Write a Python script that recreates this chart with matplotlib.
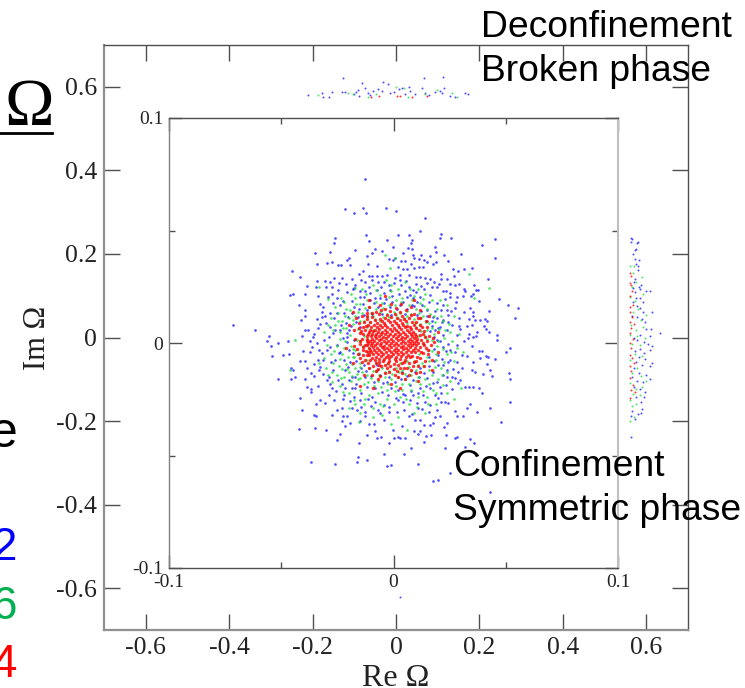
import numpy as np
import matplotlib
matplotlib.use('Agg')
import matplotlib.pyplot as plt

# all scatter values are read off the picture, in units of 1/1000
# inset, blue (largest volume)
blue_inset = [
    (-12.6,72.7),(-21.7,59.6),(-17.4,57.9),(-13.4,59.9),(-12.2,57.6),(-3.4,59.9),(-25.9,46.8),(-26.4,44.4),(-12.4,48.1),
    (-10.8,45.4),(-2.9,45.6),(-0.3,42.5),(-34.9,40.1),(-28.3,40.6),(-17,41.3),(-8.4,41.6),(-4.9,41.1),(-11.8,38.8),
    (-9.6,40.1),(-20.8,37.1),(-19.9,37.7),(-27.4,36.1),(-29.6,35.4),(-34,35.1),(-24.6,34.6),(-23.2,34.6),(-19.2,34.8),
    (-11.4,34.9),(-7.4,34.3),(-1.9,37.4),(-0.4,36.7),(-45.1,32),(-41.8,29.3),(-15.2,30.8),(-13.4,32.1),(-11.1,29.9),
    (-9.6,29.9),(-7.3,30),(-4.9,29.6),(-3,30.3),(-30.5,27.7),(-34.1,27.5),(-26.6,29),(-23.1,28.9),(-28.3,27.1),
    (-24.3,26.8),(-34.4,24.7),(-38.5,25.3),(-30,25.1),(-27.5,24.7),(-17,25.8),(-18.2,23.8),(-14.5,28),(-46.3,21.5),
    (-44.7,21.9),(-39.4,21.8),(-33.6,21),(-29,20.6),(-25,20.2),(-20.5,22.5),(-42.1,17.1),(-32.8,17.5),(-39.2,14.7),
    (-39.4,12),(-41.4,10.2),(-32,11.4),(-34,10.6),(-71.3,7.8),(-61.6,5.6),(-55.6,3.3),(-56.5,1),(-51.5,0),(-46.8,1),
    (-40.8,3.3),(-39.4,5.9),(-38.3,5.6),(-35.2,4),(-17.8,24.3),(-14.9,20.6),(-10.4,22.1),(-7.4,23.5),(-4.4,22.1),
    (-1.5,23.5),(-22.2,13.2),(-25.2,13.2),(-18.5,13.2),(-28.1,7.3),(-25.9,5.8),(-28.9,2.8),(-31.1,1.3),(-34,0.2),
    (-37,1),(-23.7,5.8),(-20.7,4.3),(-17.8,16.1),(-13.3,20.6),(-8.9,17.6),(-4.4,17.6),(-1.5,16.1),(-20.7,2.8),(-17.8,1.3),
    (-14.8,7.3),(-11.8,14.7),(-28.1,13.2),(-30.4,12),(-32.6,8.3),(-29.9,9),(-16,11.5),(-13.5,17.5),(-21,9),(-19,7.6),
    (-6.2,20),(-24,16.8),(-27,18),(-22.5,18.5),(-11,25),(-7,27),(-2,26),(-15.5,15),(-9.5,12.8),(-5,13),(-1.2,12.5),
    (1.3,58.5),(14.2,55.6),(2.1,48.1),(6.7,48.1),(11.8,49.9),(21.2,48.5),(20.6,46.8),(25.5,46.8),(45,46.3),(8.1,45.9),
    (7.7,44.3),(18.4,42.8),(39.4,43.7),(6.4,42.3),(8.4,41.6),(4.4,40.1),(18.9,40.6),(30.2,39.7),(8.9,39.2),(12.3,39.2),
    (16.4,38.6),(22.6,39.1),(0.6,37.6),(11.4,37.3),(9.2,38),(45.3,37.7),(3.3,36.3),(5.2,36.6),(13.8,37.1),(14.8,36),
    (18.9,36.1),(24.4,36.3),(7.7,35.2),(17.5,35.1),(1.8,34),(11.2,33.7),(13.2,33.7),(9.2,33.3),(34.8,33.4),(26.3,32.9),
    (28.9,31.8),(31.4,33),(4.4,32.7),(5.9,32.9),(21,30.8),(26.8,29.9),(42.2,28.6),(21.2,28.4),(24,28.4),(6.7,30.2),
    (3,30.2),(10,29.2),(11.8,29.2),(14,28.7),(18,27.2),(14.8,26.5),(25.2,26.2),(27.4,26),(29.2,26.2),(36,26),(19.5,25),
    (17,24.7),(36.7,23.4),(37.6,23.4),(31.4,24.1),(22.2,23.2),(23.4,22.9),(25.2,22.3),(32,23.1),(35.5,21.9),(31.1,20.9),
    (34.5,21),(25.2,20.3),(28.1,20.3),(46.8,19.5),(51.1,16.9),(55.6,15.5),(54.2,11.2),(38,18.6),(34,15.5),(42.5,14.4),
    (35.2,13.8),(35.5,12),(33.7,10.7),(40.7,10.7),(41.6,9.6),(38.6,10.2),(36.3,10.2),(29,7.5),(32.6,7.7),(34.8,7.8),
    (40.3,7.7),(41.4,6.2),(42.6,4.9),(37.4,4.9),(33.7,4),(35.2,2.8),(36.7,3.3),(45.9,3.7),(46.3,1.3),(33.3,2.1),(28.1,3.4),
    (24.4,9.3),(25.5,14.4),(23.7,14.7),(22.2,17),(19.2,17.6),(16.3,21.3),(11.8,20.6),(8.9,19.8),(5.9,20.3),(22.2,10.2),
    (19.2,11),(17.5,11.7),(20.7,7.3),(18.5,5.8),(22.2,3.7),(19.5,1.3),(14.8,14.7),(12.6,16.9),(10.4,18.4),(8.1,16.9),
    (4.4,18.4),(3.3,25.8),(7.1,25),(8.9,23.5),(0.7,28.7),(0.4,26.5),(14.8,9.9),(17,7.5),(1.5,15),(5,13),(10.5,12.5),
    (52.1,-2.1),(50,-4.1),(45.1,-7.1),(42.2,-6.1),(39.2,-3.4),(38,-3.4),(34.8,-1.3),(41,-5.6),(41.7,-9.5),(43.2,-12),
    (40,-13.9),(43.8,-14.7),(51.5,-13.5),(51.8,-16),(51.8,-26),(39.2,-22.3),(38.2,-20.1),(35.5,-19.7),(33.7,-19.7),
    (31.8,-19.7),(34.8,-12),(36.3,-13),(32.6,-5.8),(35.5,-8.3),(38.5,-6.8),(30.3,-11.2),(27.4,-15.7),(28.9,-17.9),
    (25.9,-14.9),(23.7,-14.9),(34,-27.2),(32.9,-28.7),(42.9,-29),(37.4,-30.5),(48.1,-35.2),(31.1,-32.4),(28.1,-32.4),
    (27.4,-30),(24.4,-26.8),(21.2,-26),(22.9,-26.3),(19.2,-29.8),(16.3,-27.5),(18.5,-32.7),(20.7,-32.4),(17.5,-35.4),
    (24,-35.7),(22.6,-37.2),(16.3,-36.4),(13.6,-36.4),(11.8,-34.2),(9.6,-34.2),(6.7,-32.3),(4,-36.7),(2.2,-41.9),(3,-42.3),
    (5.2,-42),(9.2,-38.9),(10.7,-40.5),(11.8,-38.9),(14.5,-41.3),(16.7,-40.9),(23.4,-41.1),(28.4,-41.6),(27.4,-42.3),
    (34,-42.7),(36,-44.5),(13.6,-44.2),(7.8,-46.5),(22.9,-46.5),(31.8,-46.3),(4.7,-49.4),(11,-53.6),(25,-57.7),(17.6,-61.3),
    (19.7,-60.8),(42.8,-66),(2.2,-25.3),(4.4,-26),(7.4,-25.3),(10.4,-26.8),(11.1,-29),(14.1,-26),(13.3,-23.1),(8.9,-23.1),
    (5.2,-23.1),(2.2,-20.9),(7.4,-18.6),(11.8,-20.1),(16.3,-20.1),(18.5,-23.1),(20.7,-19.4),(22.2,-14.2),(19.2,-17.2),
    (14.8,-15.7),(22.2,-9.8),(25.2,-7.6),(28.1,-8.3),(30.3,-5.3),(27.4,-3.9),(25.2,-3.1),(22.2,-1.6),(20,-9.8),(17.8,-12.7),
    (23.7,-12),(8.9,-16.4),(29.6,-16.4),(12,-11),(16,-6),(18,-2.5),(4,-13),(-54.6,-1.5),(-53.9,-5.8),(-49.4,-5.3),(-46.6,-4.9),
    (-40.3,-3.6),(-37.3,-4.1),(-41.7,-7.9),(-39.4,-8),(-45.6,-11.2),(-44.9,-12),(-38.5,-11),(-43.7,-14.9),(-39.6,-15.8),
    (-51.5,-16.1),(-45.5,-16.1),(-36.7,-13.2),(-35.5,-14.5),(-38.5,-19.4),(-36.7,-20.4),(-36.7,-21.9),(-33.5,-18.9),
    (-41.7,-24.3),(-32.6,-25.3),(-34.4,-27.1),(-30.6,-26.5),(-40.9,-29.7),(-35.5,-32),(-34.4,-32.4),(-27.4,-32),(-42.2,-38.2),
    (-34.8,-37.6),(-29.9,-38.5),(-23.7,-40.3),(-25.2,-42.9),(-15.5,-44.5),(-36.9,-52.8),(-25.9,-53.9),(-15.8,-50.5),
    (-16.2,-52.8),(-11.8,-51.9),(-4.3,-49.4),(-2.8,-54.8),(-1,-54.3),(-11.8,-40.8),(-7.4,-42.3),(-5.6,-41.7),(-2.2,-44.3),
    (0,-42.3),(-0.3,-38.6),(-8.1,-39.1),(-11.1,-36),(-8.9,-36),(-19.2,-35.7),(-21.6,-36.7),(-23,-34.6),(-22.5,-32.4),
    (-20.7,-32.4),(-25.1,-29.6),(-22.9,-28.7),(-18.5,-28.7),(-16.3,-29.8),(-12.6,-30.5),(-12.6,-32.4),(-14.8,-34.6),
    (-6.7,-29.8),(-4.4,-34.2),(-2.2,-30.5),(-26.6,-25.3),(-22.2,-23.1),(-17.8,-23.8),(-14.8,-25.3),(-28.9,-23.1),(-27.4,-20.1),
    (-29.6,-16.4),(-28.9,-14.9),(-27,-12),(-32.6,-10.5),(-33.8,-7.5),(-33.3,-3.1),(-31.8,-4.6),(-28.1,-1.6),(-25.9,-7.5),
    (-21.5,-12),(-21.5,-20.1),(-18.5,-20.1),(-17,-20.1),(-8.9,-17.2),(-8.1,-20.1),(-9.6,-23.8),(-18.5,-14.9),(-17,-14.9),
    (-23.7,-3.9),(-20,-3.1),(-19.2,-8.3),(-13.3,-9.8),(-7.4,-9.8),(-11.8,-19.5),(-4.4,-27.5),(-1.2,-20.1),(-3,-17.2),
    (-16,-12.5),(-12.5,-15),(-24.5,-16.5),(-6,-14),(-15.5,-5),(-20.5,0.5),
    # thicker part around the centre
    (-31.4,16.2),(-26.3,11.1),(-23.4,8.2),(-20.2,11.7),(-18.3,18.6),(-15.1,22.9),(-12.7,27.3),(-8.2,19.9),(-5.6,24.8),(-3.2,19.4),
    (-0.6,20.7),(2.4,21.8),(4.9,23.2),(7.3,21.4),(10.2,22.7),(13.4,24.2),(15.9,18.3),(12.2,14.1),(9.3,16.4),(6.2,15.2),(3.1,16.9),
    (-0.7,18.2),(-6.9,16.1),(-10.3,19.2),(-13.2,12.4),(-16.8,9.3),(-19.7,5.9),(-22.6,2.4),(-25.1,-0.8),(-26.9,4.3),(-29.8,-3.2),
    (-31.2,-7.7),(-27.8,-8.6),(-24.2,-4.3),(-22.1,-7.4),(-20.3,-10.6),(-18.1,-4.6),(-16.7,-7.8),(-14.4,-11.3),(-12.1,-12.6),
    (-9.8,-14.7),(-7.2,-12.1),(-4.7,-17.8),(-1.9,-14.9),(0.8,-17.3),(3.4,-16.2),(6.1,-14.8),(9.4,-12.7),(11.3,-15.3),(13.8,-13.4),
    (15.6,-10.2),(17.9,-8.1),(19.6,-5.3),(21.4,-7.2),(23.3,-3.6),(20.7,0.9),(18.1,2.6),(16.4,5.3),(19.8,6.7),(21.6,9.4),(17.3,9.9),
    (14.7,12.2),(23.7,5.6),(26.2,7.9),(24.1,12.3),(27.3,15.6),(21.2,14.8),(18.7,14.4),(29.2,11.3),(31.3,13.6),(28.4,-0.7),(31.2,0.8),
    (26.7,-11.4),(24.2,-8.3),(28.9,-12.8),(26.1,-20.3),(23.4,-18.7),(21.1,-22.4),(17.8,-17.6),(14.3,-19.2),(10.8,-22.3),(7.7,-21.4),
    (4.3,-22.8),(1.1,-24.6),(-2.4,-23.3),(-5.2,-21.8),(-8.3,-26.4),(-11.4,-24.7),(-14.6,-22.2),(-16.9,-18.4),(-19.8,-16.6),(-23.1,-18.2),
    (-25.7,-21.4),(-28.2,-18.3),(-31.4,-13.7),(-33.3,-12.2),(-35.4,-9.4),(-36.2,-1.8),(-35.8,2.6),(-33.6,6.7),(-31.7,13.8),(-27.2,21.6),
    (-24.8,23.7),(-21.3,26.4),(-18.6,28.6),(-12.9,23.3),(-9.7,27.9),(-4.3,27.2),(2.8,28.1),(5.7,27.4),(10.1,26.2),(12.4,25.2),(16.4,28.6),
    (20.2,26.1),(22.8,19.4),(27.9,18.2),(29.4,6.3),(24.4,-0.4),(-22.7,-25.1),(-19.3,-25.7),(-14.4,-28.6),(-10.1,-28.1),(-6.2,-31.2),
    (-1.8,-28.3),(1.6,-30.6),(4.8,-29.7),(8.2,-31.4),(12.6,-29.4),(15.9,-30.8),(19.8,-24.6),
]

green_inset = [
    (-44,1.5),(-33,25),(-29,19.5),(-26,16),(-23.5,20),(-21,15),(-19,22),(-16.5,17.5),(-14,24),(-12,19),(-9,26),(-6,21.5),
    (-3.5,28),(-1,23),(2,24),(5,27),(-1.5,33.5),(0.5,38),(-4,39),(9,21),(11,24),(14,22),(17,19),(19.5,15),(15,15),
    (12,18),(21,12),(24,17),(27,12),(23,6),(26,1),(29,4),(31,-4),(27,-8),(24,-5),(33.5,30.5),(42.5,24.5),(36,20),
    (18,12),(16,9),(13,12),(10,15),(7,17),(4,20),(1,19),(-2,17),(-5,18),(-8,15),(-11,16),(-14,13.5),(-17,12),(-20,11),
    (-23,10),(-26,8),(-28,11),(-31,5),(-24,5),(-21,6.5),(-18,8.5),(-15,10),(-12,11.5),(-9,12),(-6,14),(-3,13),(0,14),
    (3,13.5),(6,12),(9,10.5),(12,8.5),(15,6),(18,4),(20,1),(22,-2.5),(19,-5),(16,-3),(13,-0.5),(14,3),(-33,-9),(-30,-11),
    (-27,-9),(-24,-7),(-21,-9.5),(-18,-6),(-15,-9),(-12,-7.5),(-22,-2),(-25,-1.5),(-28,-5),(-19,-1.5),(-17,-3),(-46,-12),
    (-25,-14),(-23,-11.5),(-20,-13),(-17,-11),(-14,-13),(-11,-11),(-8,-12.5),(-5,-11),(-2,-12.5),(1,-11),(4,-12),(7,-10.5),
    (10,-12),(13,-10),(16,-8),(19,-7.5),(21,-11),(24,-13),(17,-14),(14,-16),(11,-15),(8,-14),(5,-16),(2,-15),(-1,-16),
    (-4,-15),(-7,-17),(-10,-15.5),(-13,-18),(-16,-16),(-19,-17),(-22,-15),(-24,-19),(-20,-22),(-15,-21),(-11,-23),(-7,-22),
    (-3,-21),(1,-19),(4,-21),(8,-21),(12,-18),(16,-18),(20,-16),(25,-17),(30,-20),(27,-25),(24,-22),(19,-22),(15,-24),
    (11,-24),(7,-27),(3,-24),(0,-27),(-3,-25),(-6,-27),(-9,-29),(-13,-27),(-17,-27),(-20,-29),(6,-38.5),(2,-33),(-1,-36),
    (-5,-32),(-9,-33),(-15,-31),(9,-31),(14,-31),(19,-27),(-15.5,-35),(-17.5,-25.5),(-29,-14),(-11,-5),(-13,3),(-15,1),
    (-12,7),(-9,6),(-11,-2),(11,3),(10,7),(11.5,-5),(9,-8),(-6,10),(2,11),(6,9),(-8,-9),(-3,-9.5),(3,-9),(6,-8),
    # thicker part around the centre
    (-24.6,13.4),(-22.3,6.7),(-19.4,14.8),(-17.2,20.1),(-14.8,17.2),(-12.4,21.6),(-10.1,13.2),(-7.6,18.4),(-4.7,15.6),(-2.1,20.3),
    (0.6,16.7),(3.2,18.2),(5.8,14.4),(8.1,18.9),(11.3,13.3),(13.7,16.6),(16.2,13.1),(18.4,9.2),(20.3,6.1),(17.1,6.7),(14.4,9.3),
    (12.2,5.4),(22.6,2.3),(24.7,8.4),(19.3,-1.4),(17.2,-3.6),(14.9,-6.3),(12.8,-8.7),(10.7,-9.8),(15.6,-12.1),(18.3,-10.6),(21.7,-14.4),
    (7.9,-12.4),(5.3,-13.7),(2.4,-12.9),(-0.8,-13.8),(-3.6,-13.1),(-6.4,-14.3),(-9.2,-12.6),(-11.8,-14.2),(-14.7,-10.6),(-16.3,-13.7),
    (-18.6,-9.2),(-20.4,-6.4),(-22.8,-4.8),(-17.4,-6.1),(-15.2,-4.3),(-13.4,-1.4),(-16.4,1.2),(-19.2,3.4),(-21.7,0.8),(-23.9,1.9),
    (-26.3,-3.7),(-29.4,-0.9),(-30.8,-6.6),(-27.2,-12.8),(-24.1,-10.2),(-26.8,5.6),(-29.3,8.1),(-24.7,9.7),(-21.4,12.2),(-18.1,10.3),
    (-15.9,13.6),(-13.1,9.7),(-10.6,9.4),(-8.2,10.8),(-4.6,11.7),(-1.8,11.4),(1.2,12.6),(4.7,10.9),(7.8,12.9),(9.7,8.7),(12.1,11.2),
    (14.8,1.8),(17.3,1.4),(-12.7,15.4),(-15.6,6.2),(-18.2,-2.7),(-20.9,-11.7),(-23.6,-15.6),(-18.7,-14.8),(-15.1,-15.4),(-11.2,-17.3),
    (-8.7,-19.2),(-5.6,-19.4),(-2.4,-18.3),(0.7,-21.4),(3.6,-18.4),(6.7,-18.2),(9.8,-17.1),(13.2,-21.4),(17.6,-20.8),(21.9,-18.7),
    (22.7,-8.6),(25.8,-4.2),(28.3,-2.3),(25.2,4.8),(22.1,9.8),(-21.9,18.4),(-17.3,24.6),(-7.8,23.4),(-1.1,25.7),(7.4,24.1),(13.1,19.4),
    (20.6,19.3),(-27.3,-17.4),(-22.4,-21.6),(-12.6,-24.9),(-4.8,-28.2),(5.4,-24.7),(10.6,-28.4),(15.4,-27.3),
]

red_inset = [
    # solid core, row by row
    (-5,10),(-2.6,10.3),(0.4,9.8),(2.8,10.1),(-7.2,9),(-4.3,8.9),(-1.5,9.2),(1.2,8.8),(3.9,9.1),(-8.6,8),(-6,8.2),(-3.6,7.9),
    (-0.8,8.1),(1.9,7.8),(4.4,8.2),(6.1,7.7),(-9.8,7),(-7.5,7.1),(-5.1,6.9),(-2.7,7.2),(0,6.8),(2.6,7.1),(5.1,6.9),(7.2,7),
    (-10.5,6),(-8.4,5.9),(-6.4,6.1),(-4,5.8),(-1.6,6.2),(0.9,5.9),(3.5,6.1),(6,5.8),(8,6.1),(-11,5),(-9,5.2),(-7,4.9),(-5,5.1),
    (-3,4.8),(-0.6,5.2),(1.8,4.9),(4.2,5.1),(6.7,4.8),(8.8,5.1),(-11.4,4),(-9.6,3.9),(-7.6,4.1),(-5.7,3.8),(-3.6,4.2),(-1.4,3.9),
    (0.8,4.1),(3,3.8),(5.3,4.2),(7.6,3.9),(9.4,4),(-11.8,3),(-10,3.1),(-8.2,2.9),(-6.3,3.2),(-4.5,2.8),(-2.4,3.1),(-0.2,2.9),
    (2,3.2),(4,2.8),(6.2,3.1),(8.4,2.9),(10,3.1),(-11.6,2),(-9.7,1.9),(-7.6,2.1),(-5.5,1.8),(-3.4,2.2),(-1.2,1.9),(1,2.1),
    (3.2,1.8),(5.3,2.2),(7.3,1.9),(9.2,2.1),(10.6,1.9),(-12,1),(-10.3,1.1),(-8.5,0.9),(-6.5,1.2),(-4.4,0.8),(-2.3,1.1),(-0.2,0.9),
    (2,1.2),(4.2,0.8),(6.3,1.1),(8.3,0.9),(10.1,1.1),(-11.5,0),(-9.6,0.1),(-7.5,-0.1),(-5.4,0.2),(-3.3,-0.2),(-1.1,0.1),(1,-0.1),
    (3.2,0.2),(5.3,-0.2),(7.4,0.1),(9.3,-0.1),(10.8,0),(-11.8,-1),(-10,-0.9),(-8.2,-1.1),(-6.2,-0.8),(-4.2,-1.2),(-2.1,-0.9),(0.1,-1.1),
    (2.2,-0.8),(4.3,-1.2),(6.4,-0.9),(8.4,-1.1),(10,-0.9),(-11,-2),(-9.2,-1.9),(-7.2,-2.1),(-5.2,-1.8),(-3.1,-2.2),(-1,-1.9),(1.1,-2.1),
    (3.3,-1.8),(5.4,-2.2),(7.5,-1.9),(9.4,-2.1),(-10.6,-3),(-8.5,-2.9),(-6.4,-3.1),(-4.3,-2.8),(-2.2,-3.2),(0,-2.9),(2.2,-3.1),
    (4.4,-2.8),(6.5,-3.2),(8.6,-2.9),(-9.8,-4),(-7.7,-3.9),(-5.5,-4.1),(-3.4,-3.8),(-1.2,-4.2),(1,-3.9),(3.2,-4.1),(5.4,-3.8),(7.6,-4.2),
    (-9,-5),(-6.8,-5.1),(-4.6,-4.9),(-2.4,-5.2),(-0.2,-4.8),(2,-5.1),(4.3,-4.9),(6.6,-5.2),(-7.8,-6),(-5.6,-5.9),(-3.4,-6.2),(-1.2,-5.8),
    (1,-6.1),(3.3,-5.8),(5.6,-6.2),(-6.4,-7),(-4.1,-7.1),(-1.8,-6.8),(0.6,-7.2),(3,-6.9),(-4.8,-8),(-2,-8.1),(1,-7.9),(-2.6,-9),(0.2,-9.2),
    # loose ring around it
    (-14,12),(-12,10.5),(-9.5,11.5),(-6.5,13),(-3,12.5),(0.5,13),(4,12),(7,11),(10,9.5),(12,8),(13.5,5.5),(14,2.5),(13,0),(14.5,-2),(13,-4.5),
    (12,-6.5),(10.5,-6),(9,-8.5),(7,-9),(4.5,-8.5),(6,-11),(3,-11),(0,-11.5),(-3,-11),(-5.5,-10),(-8,-9),(-10.5,-7.5),(-12,-5.5),(-13.5,-3),
    (-15,-0.5),(-14,2),(-15,4.5),(-13.5,7),(-15.5,9),(-12,13.5),(-8,14),(-4,15),(1,15.5),(5.5,14.5),(9,13),(12,11),(15,7),(16,3),(16.5,-1),
    (15.5,-5),(14,-8),(11,-10),(8,-12),(4,-13.5),(0.5,-14),(-4,-13.5),(-8,-12.5),(-11,-11),(-14,-8.5),(-16,-5),(-17.5,-1.5),(-17,2),(-17.5,6),
    (-16.5,11),(-11,16),(-6,17),(-1,17.5),(3.5,17.5),(8,16),(12,14.5),(-18,14),(18,0.5),(17,-7.5),(12,-13),(5,-16),(-1,-18),(-7,-16),(-13,-14),
    (-18,-9),(-15,-19),(-9,-20),(3,-20),(11,-17),(17,-12),(20,-4),(20,5),(16,12),(9,19),(-4,21),(-11,19),(-20,8),(-21,-2),
    # edge of the blob, uneven
    (-13.1,9.4),(-11.4,8.2),(-12.7,5.8),(-13.6,3.9),(-12.9,-0.7),(-13.4,-1.8),(-12.4,-3.6),(-11.2,-4.1),(-10.7,-5.4),(-9.6,-6.7),(-8.3,-7.6),
    (-6.6,-8.4),(-6.4,-9.7),(-3.6,-9.8),(-1.4,-10.4),(1.8,-9.6),(3.7,-8.8),(5.2,-7.6),(7.2,-6.4),(8.4,-5.8),(9.6,-3.9),(10.7,-3.2),(11.6,-1.7),
    (12.1,1.3),(11.8,3.6),(11.4,5.8),(10.2,6.7),(9.1,7.8),(8.2,9.3),(5.7,9.6),(4.6,10.8),(1.6,11.3),(-1.2,11.6),(-3.9,11.2),(-6.2,10.6),(-8.4,10.1),
    (-10.4,9.2),(-12.1,7.4),(-14.3,5.2),(-14.9,0.7),(-13.7,-5.2),(-12.8,-7.4),(-11.2,-8.9),(-9.2,-10.3),(-6.7,-11.6),(-2.1,-12.8),(1.4,-12.4),(4.8,-11.3),
    (8.6,-10.1),(10.2,-8.2),(12.4,-3.8),(13.6,-1.1),(14.7,0.9),(13.2,4.2),(12.8,6.9),(10.7,10.9),(7.8,12.4),(2.7,13.8),(-1.7,14.2),(-5.4,14.7),(-9.6,13.2),
    (-11.7,12.1),(-15.2,6.8),(-16.2,-2.7),(-14.8,-6.6),(-9.7,-14.1),(-5.8,-14.6),(2.2,-15.3),(6.9,-14.2),(9.8,-13.3),(13.4,-10.4),(15.2,-3.1),(17.4,2.2),(14.4,9.7),
]

# outer axes, in 1/1000 of the main scale
blue_outer = [
    (563,237),(565,235),(564,229),(577,227),(581,229),(575,211),(573,209),(567,201),(574,189),(582,186),(575,176),(581,171),
    (579,161),(572,140),(570,134),(582,120),(588,125),(569,119),(574,108),(584,115),(600,112),(609,111),(575,95),(586,94),
    (591,86),(568,84),(578,76),(585,70),(593,62),(613,61),(566,52),(578,48),(590,44),(596,36),(612,20),(599,20),(632,11),
    (609,3),(586,5),(570,-2),(577,-7),(594,-11),(603,-15),(614,-20),(585,-27),(572,-33),(594,-36),(609,-30),(582,-46),
    (596,-52),(575,-58),(590,-66),(614,-62),(608,-69),(570,-74),(583,-84),(600,-90),(565,-95),(578,-104),(593,-107),
    (609,-100),(570,-118),(586,-124),(597,-130),(575,-142),(595,-143),(587,-155),(566,-175),(580,-182),(590,-172),
    (563,-188),(572,-195),(587,-180),(563,-237),
    (-210,580),(-178,586),(-176,576),(-160,576),(-154,588),(-130,588),(-128,620),(-122,588),(-100,582),(-96,588),(-91,592),
    (-88,578),(-81,608),(-74,598),(-68,586),(-62,580),(-54,590),(-44,594),(-34,590),(-30,612),(-20,606),(-14,586),(-4,588),
    (6,594),(14,596),(32,600),(22,582),(34,590),(46,582),(62,596),(66,620),(70,586),(78,580),(94,588),(106,590),(114,598),
    (112,624),(110,586),(130,578),(142,576),(166,586),(172,582),(10,-622),
]
green_outer = [
    (562,170),(570,172),(567,155),(590,145),(575,132),(566,122),(593,103),(562,98),(572,88),(580,68),(600,55),(568,60),(588,42),
    (563,30),(575,18),(592,25),(562,5),(578,3),(598,-2),(565,-15),(585,-19),(573,-40),(560,-55),(590,-45),(578,-73),(566,-85),
    (587,-92),(600,-105),(562,-110),(575,-123),(590,-118),(568,-135),(585,-138),(562,-150),(575,-160),(565,-165),(570,-190),(562,-200),
    (-186,580),(-114,584),(-102,582),(-48,582),(0,600),(18,596),(28,576),(98,592),(70,582),(134,584),(146,576),(-68,576),
]
red_outer = [
    (561,155),(564,146),(560,130),(563,125),(566,112),(561,100),(568,78),(562,72),(560,60),(566,50),(561,37),(570,32),(563,22),(560,10),
    (567,-4),(562,-12),(564,-25),(561,-42),(566,-48),(570,-60),(562,-68),(564,-80),(561,-98),(567,-113),(572,-130),(563,-125),(561,-145),
    (-60,576),(-40,578),(2,578),(10,578),(74,578),(38,576),
]

outer_ticks = [-0.6, -0.4, -0.2, 0, 0.2, 0.4, 0.6]
outer_labels = ['-0.6', '-0.4', '-0.2', '0', '0.2', '0.4', '0.6']
inset_ticks = [-0.1, 0, 0.1]
inset_minor = [-0.05, 0.05]
inset_labels = ['-0.1', '0', '0.1']

W, H = 745, 688
BLUE, GREEN, RED = '#2020ff', '#20e040', '#ff0000'


def px_axes(fig, left, top, right, bottom):
    return fig.add_axes([left / W, 1 - bottom / H, (right - left) / W, (bottom - top) / H])


def dots(ax, pts, color, size):
    arr = np.array(pts) / 1000.0
    ax.scatter(arr[:, 0], arr[:, 1], s=size, c=color, marker='o', linewidths=0, alpha=0.8)


plt.rcParams['font.family'] = ['Liberation Serif']
fig = plt.figure(figsize=(W / 100, H / 100), dpi=100)

ax = px_axes(fig, 104, 45, 688, 630)
ax.set_xlim(-0.7, 0.7)
ax.set_ylim(-0.7, 0.7)
ax.set_xticks(outer_ticks)
ax.set_yticks(outer_ticks)
ax.set_xticklabels(outer_labels)
ax.set_yticklabels(outer_labels)
ax.tick_params(axis='both', direction='in', top=True, right=True, length=11.5, width=1,
               color='#505050', labelsize=18.5, labelcolor='#222222', pad=5)
ax.set_xlabel('Re Ω', fontsize=23, labelpad=4, color='#222222')
ax.set_ylabel('Im Ω', fontsize=22, labelpad=3, color='#222222')
ax.spines['left'].set(color='#909090', linewidth=1.6)
ax.spines['bottom'].set(color='#909090', linewidth=1.6)
ax.spines['top'].set(color='#505050', linewidth=1)
ax.spines['right'].set(color='#505050', linewidth=1)
dots(ax, blue_outer, BLUE, 2.0)
dots(ax, green_outer, GREEN, 2.0)
dots(ax, red_outer, RED, 2.0)

inset = px_axes(fig, 169, 118, 618, 568)
inset.set_xlim(-0.1, 0.1)
inset.set_ylim(-0.1, 0.1)
inset.set_xticks(inset_ticks)
inset.set_yticks(inset_ticks)
inset.set_xticks(inset_minor, minor=True)
inset.set_yticks(inset_minor, minor=True)
inset.set_xticklabels(inset_labels)
inset.set_yticklabels(inset_labels)
inset.tick_params(axis='both', which='major', direction='in', top=True, right=True, length=9.5, width=1,
                  color='#505050', labelsize=14, labelcolor='#222222', pad=4)
inset.tick_params(axis='both', which='minor', direction='in', top=True, right=True, length=4.5, width=1,
                  color='#505050')
inset.spines['left'].set(color='#808080', linewidth=1)
inset.spines['bottom'].set(color='#505050', linewidth=1)
inset.spines['top'].set(color='#505050', linewidth=1)
inset.spines['right'].set(color='#c0c0c0', linewidth=1.5)
dots(inset, blue_inset, BLUE, 3.6)
dots(inset, green_inset, GREEN, 3.6)
dots(inset, red_inset, RED, 6)

# annotations pasted over the chart, cut at the left edge of the page
sans = ['Liberation Sans']
fig.text(481 / W, 1 - 37 / H, 'Deconfinement', family=sans, fontsize=26.8, color='black')
fig.text(481 / W, 1 - 81 / H, 'Broken phase', family=sans, fontsize=26.8, color='black')
fig.text(453 / W, 1 - 476 / H, 'Confinement', family=sans, fontsize=26.8, color='black')
fig.text(453 / W, 1 - 520 / H, 'Symmetric phase', family=sans, fontsize=26.8, color='black')
fig.text(4 / W, 1 - 125 / H, 'Ω', family=['Liberation Serif'], fontsize=48, color='black')
fig.add_artist(plt.Line2D([0, 52 / W], [1 - 133 / H, 1 - 133 / H], color='black', linewidth=2))
fig.text(-10 / W, 1 - 447 / H, 'e', family=sans, fontsize=36, color='black')
fig.text(-8 / W, 1 - 560 / H, '2', family=sans, fontsize=33, color='#0000ff')
fig.text(-8 / W, 1 - 619 / H, '6', family=sans, fontsize=33, color='#00b050')
fig.text(-8 / W, 1 - 677 / H, '4', family=sans, fontsize=33, color='#ff0000')

plt.savefig('out.png', dpi=100)
